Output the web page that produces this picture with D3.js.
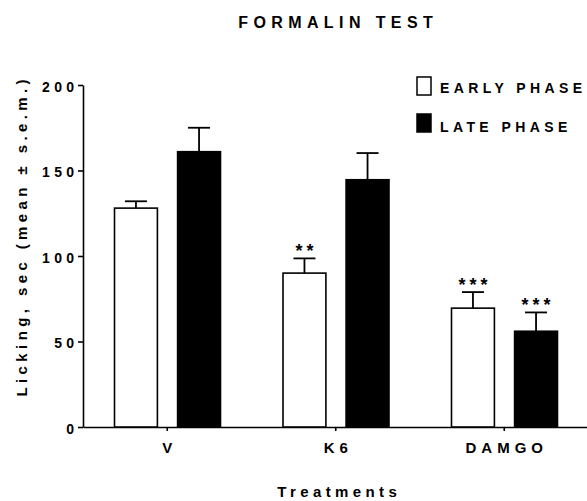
<!DOCTYPE html>
<meta charset="utf-8">
<style>
  body { margin: 0; background: #fff; }
  svg text { font-family: "Liberation Sans", Arial, sans-serif; font-weight: bold; fill: #000; }
  .title { font-size: 16px; letter-spacing: 5.4px; }
  .axlabel { font-size: 15px; letter-spacing: 4.4px; }
  .ytick .tick text { font-size: 14px; letter-spacing: 4.3px; }
  .xtick .tick text { font-size: 15px; letter-spacing: 5px; }
  .legend text { font-size: 14px; letter-spacing: 4.4px; }
  .stars { font-size: 18px; letter-spacing: 4px; }
  .domain, .tick line { stroke: #000; stroke-width: 1.6px; }
</style>
<body>
<svg id="chart" width="587" height="501"></svg>
<script src="https://d3js.org/d3.v7.min.js"></script>
<script>
  // values
  var treatments = ['V', 'K6', 'DAMGO'];
  var phases = ['early', 'late'];
  var phaseLabels = ['EARLY PHASE', 'LATE PHASE'];
  var earlyMean = [128, 90, 69.5];
  var earlySem = [4, 8.6, 9.4];
  var lateMean = [161, 144.6, 56];
  var lateSem = [14, 15.6, 11];
  var earlyStars = ['', '**', '***'];
  var lateStars = ['', '', '***'];
  var yTicks = [0, 50, 100, 150, 200];

  var svg = d3.select('#chart');

  var x = d3.scaleBand().domain(treatments).range([83, 588.5]);
  var xSub = d3.scaleBand().domain(phases).range([31.5, 137.5]).paddingInner(0.32);
  var y = d3.scaleLinear().domain([0, 200]).range([427, 85]);

  var rows = [];
  treatments.forEach(function(t, i) {
    rows.push({t: t, phase: 'early', mean: earlyMean[i], sem: earlySem[i], stars: earlyStars[i]});
    rows.push({t: t, phase: 'late', mean: lateMean[i], sem: lateSem[i], stars: lateStars[i]});
  });

  // axes (dx makes up for the trailing letter-spacing)
  svg.append('g')
    .attr('class', 'ytick')
    .attr('transform', 'translate(83,0)')
    .call(d3.axisLeft(y).tickValues(yTicks).tickSize(5).tickSizeOuter(0).tickPadding(4))
    .call(function(g) { g.selectAll('.tick text').attr('dy', '0.45em').attr('dx', 4.3); });

  svg.append('g')
    .attr('class', 'xtick')
    .attr('transform', 'translate(0,427)')
    .call(d3.axisBottom(x).tickSize(4).tickSizeOuter(0).tickPadding(11))
    .call(function(g) { g.selectAll('.tick text').attr('dx', 2.5); });

  // error bars (upper only)
  var bw = xSub.bandwidth();
  var err = svg.append('g').attr('stroke', '#000').attr('stroke-width', 1.8);
  rows.forEach(function(d) {
    var cx = x(d.t) + xSub(d.phase) + bw / 2;
    err.append('line').attr('x1', cx).attr('x2', cx)
      .attr('y1', y(d.mean)).attr('y2', y(d.mean + d.sem));
    err.append('line').attr('x1', cx - 11).attr('x2', cx + 11)
      .attr('y1', y(d.mean + d.sem)).attr('y2', y(d.mean + d.sem));
  });

  // bars
  svg.append('g').selectAll('rect')
    .data(rows)
    .join('rect')
      .attr('x', function(d) { return x(d.t) + xSub(d.phase); })
      .attr('y', function(d) { return y(d.mean); })
      .attr('width', bw)
      .attr('height', function(d) { return y(0) - y(d.mean); })
      .attr('fill', function(d) { return d.phase == 'early' ? '#fff' : '#000'; })
      .attr('stroke', '#000')
      .attr('stroke-width', 1.6);

  // significance stars
  svg.append('g').selectAll('text')
    .data(rows.filter(function(d) { return d.stars; }))
    .join('text')
      .attr('class', 'stars')
      .attr('text-anchor', 'middle')
      .attr('x', function(d) { return x(d.t) + xSub(d.phase) + bw / 2 + 2; })
      .attr('y', function(d) { return y(d.mean + d.sem) - 1; })
      .text(function(d) { return d.stars; });

  // legend
  var legend = svg.append('g').attr('class', 'legend');
  phaseLabels.forEach(function(lab, i) {
    legend.append('rect')
      .attr('x', 417).attr('y', 77 + i * 37)
      .attr('width', 14).attr('height', 18)
      .attr('fill', i == 0 ? '#fff' : '#000')
      .attr('stroke', '#000').attr('stroke-width', 1.5);
    legend.append('text')
      .attr('x', 440).attr('y', 93 + i * 38.5)
      .text(lab);
  });

  // titles
  svg.append('text').attr('class', 'title')
    .attr('x', 335.5).attr('y', 28).attr('text-anchor', 'middle').attr('dx', 2.7)
    .text('FORMALIN TEST');

  svg.append('text').attr('class', 'axlabel')
    .attr('x', 337).attr('y', 497).attr('text-anchor', 'middle').attr('dx', 2.2)
    .text('Treatments');

  svg.append('text').attr('class', 'axlabel')
    .attr('transform', 'translate(27,238) rotate(-90)')
    .attr('text-anchor', 'middle').attr('dx', 2.2)
    .text('Licking, sec (mean \u00b1 s.e.m.)');
</script>
</body>
